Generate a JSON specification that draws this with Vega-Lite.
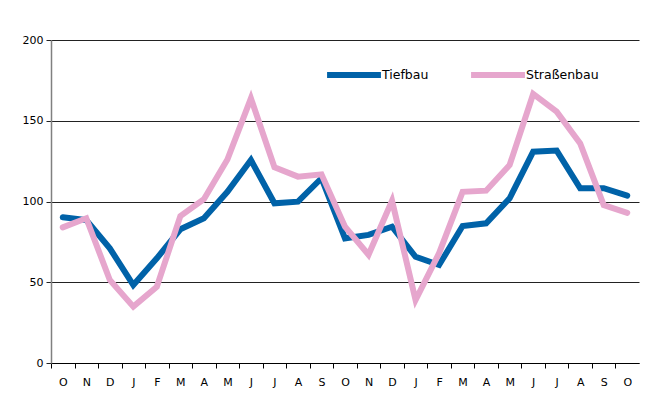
{
  "$schema": "https://vega.github.io/schema/vega-lite/v6.json",
  "width": 588,
  "height": 323,
  "autosize": {"type": "none"},
  "padding": {"left": 51, "top": 40, "right": 7, "bottom": 50},
  "background": "white",
  "config": {
    "view": {"stroke": null},
    "font": "DejaVu Sans"
  },
  "data": {
    "values": [
      {"p": "O1", "s": "Tiefbau", "v": 90.2}, {"p": "N1", "s": "Tiefbau", "v": 88.5}, {"p": "D1", "s": "Tiefbau", "v": 71},
      {"p": "J1", "s": "Tiefbau", "v": 48.3}, {"p": "F1", "s": "Tiefbau", "v": 64.8}, {"p": "M1", "s": "Tiefbau", "v": 82.8},
      {"p": "A1", "s": "Tiefbau", "v": 89.6}, {"p": "M2", "s": "Tiefbau", "v": 106}, {"p": "J2", "s": "Tiefbau", "v": 125.7},
      {"p": "J3", "s": "Tiefbau", "v": 98.9}, {"p": "A2", "s": "Tiefbau", "v": 99.9}, {"p": "S1", "s": "Tiefbau", "v": 114.4},
      {"p": "O2", "s": "Tiefbau", "v": 77.2}, {"p": "N2", "s": "Tiefbau", "v": 79.3}, {"p": "D2", "s": "Tiefbau", "v": 84.4},
      {"p": "J4", "s": "Tiefbau", "v": 65.8}, {"p": "F2", "s": "Tiefbau", "v": 60.7}, {"p": "M3", "s": "Tiefbau", "v": 84.8},
      {"p": "A3", "s": "Tiefbau", "v": 86.5}, {"p": "M4", "s": "Tiefbau", "v": 102}, {"p": "J5", "s": "Tiefbau", "v": 130.8},
      {"p": "J6", "s": "Tiefbau", "v": 131.5}, {"p": "A4", "s": "Tiefbau", "v": 108.2}, {"p": "S2", "s": "Tiefbau", "v": 108.2},
      {"p": "O3", "s": "Tiefbau", "v": 103.6},
      {"p": "O1", "s": "Straßenbau", "v": 84}, {"p": "N1", "s": "Straßenbau", "v": 89.6}, {"p": "D1", "s": "Straßenbau", "v": 51.4},
      {"p": "J1", "s": "Straßenbau", "v": 34.9}, {"p": "F1", "s": "Straßenbau", "v": 47.2}, {"p": "M1", "s": "Straßenbau", "v": 91},
      {"p": "A1", "s": "Straßenbau", "v": 101.4}, {"p": "M2", "s": "Straßenbau", "v": 126}, {"p": "J2", "s": "Straßenbau", "v": 163.9},
      {"p": "J3", "s": "Straßenbau", "v": 121.2}, {"p": "A2", "s": "Straßenbau", "v": 115.4}, {"p": "S1", "s": "Straßenbau", "v": 116.8},
      {"p": "O2", "s": "Straßenbau", "v": 84.4}, {"p": "N2", "s": "Straßenbau", "v": 67}, {"p": "D2", "s": "Straßenbau", "v": 100.5},
      {"p": "J4", "s": "Straßenbau", "v": 39}, {"p": "F2", "s": "Straßenbau", "v": 68}, {"p": "M3", "s": "Straßenbau", "v": 106},
      {"p": "A3", "s": "Straßenbau", "v": 106.7}, {"p": "M4", "s": "Straßenbau", "v": 122.6}, {"p": "J5", "s": "Straßenbau", "v": 166.6},
      {"p": "J6", "s": "Straßenbau", "v": 155.6}, {"p": "A4", "s": "Straßenbau", "v": 136}, {"p": "S2", "s": "Straßenbau", "v": 97.8},
      {"p": "O3", "s": "Straßenbau", "v": 93}
    ]
  },
  "mark": {"type": "line", "strokeWidth": 6, "strokeCap": "round"},
  "encoding": {
    "x": {
      "field": "p", "type": "ordinal", "sort": null,
      "axis": {
        "title": null, "labelAngle": 0, "labelExpr": "slice(datum.value, 0, 1)",
        "tickSize": 5, "tickColor": "#000", "tickWidth": 1, "tickOffset": -11.75, "labelOffset": 11.75,
        "domainColor": "#000", "domainWidth": 1,
        "labelFontSize": 11, "labelColor": "#000", "labelPadding": 8, "grid": false
      }
    },
    "y": {
      "field": "v", "type": "quantitative",
      "scale": {"domain": [0, 200], "nice": false},
      "axis": {
        "title": null, "values": [0, 50, 100, 150, 200], "tickSize": 5,
        "tickColor": "#222", "domainColor": "#808080", "domainWidth": 1.5,
        "gridColor": "#222", "gridWidth": 1, "gridOpacity": 1,
        "labelFontSize": 11, "labelColor": "#000", "labelPadding": 3
      }
    },
    "color": {
      "field": "s", "type": "nominal",
      "scale": {"domain": ["Tiefbau", "Straßenbau"], "range": ["#0062a8", "#e6a6cd"]},
      "legend": {
        "title": null, "orient": "none", "legendX": 273, "legendY": 5,
        "direction": "horizontal", "symbolType": "stroke", "symbolSize": 2900,
        "symbolStrokeWidth": 6, "labelFontSize": 12.5, "labelColor": "#000",
        "labelOffset": -2, "columnPadding": 30
      }
    }
  }
}
